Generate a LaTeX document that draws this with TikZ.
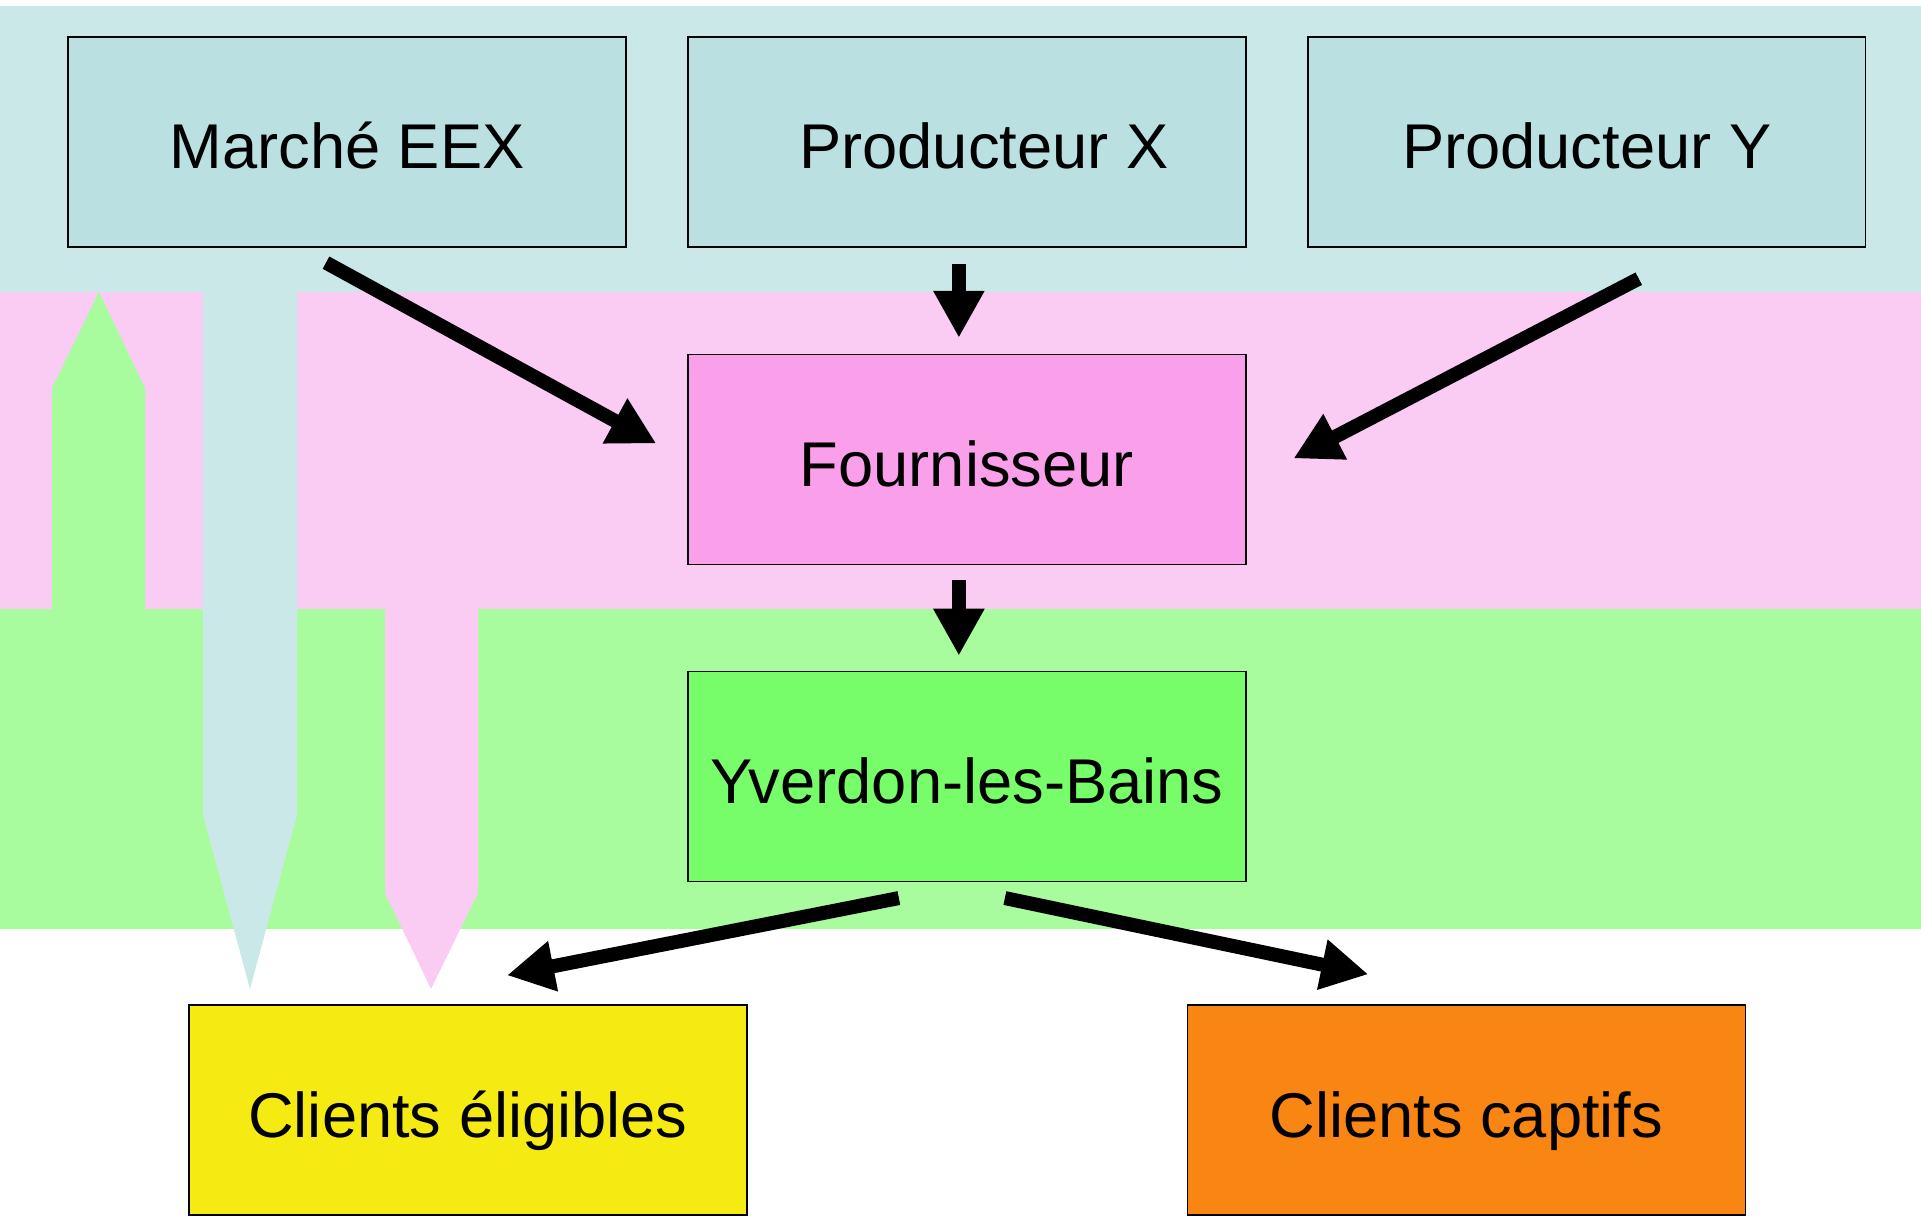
\documentclass[tikz,border=0pt]{standalone}
\usepackage{fontspec}
\setmainfont{Liberation Sans}
\usepackage{tikz}
\usetikzlibrary{arrows.meta}

\definecolor{bandcyan}{RGB}{203,232,232}
\definecolor{boxcyan}{RGB}{186,224,226}
\definecolor{bandpink}{RGB}{251,204,243}
\definecolor{boxpink}{RGB}{250,160,234}
\definecolor{bandgreen}{RGB}{168,252,158}
\definecolor{boxgreen}{RGB}{120,253,106}
\definecolor{boxyellow}{RGB}{245,235,18}
\definecolor{boxorange}{RGB}{249,134,18}

\begin{document}
\begin{tikzpicture}[
            x = 0.02cm, y = -0.02cm, % one unit per pixel, y going down
            > = {Triangle[length=0.94cm, width=0.96cm]}, % arrow head style
            node distance = 12.4cm, % distance between nodes
            flow/.style = {->, line width=0.28cm}
        ]

        \tikzstyle{box}=[
            draw = black,
            line width = 0.8pt,
            minimum width = 11.16cm,
            minimum height = 4.2cm,
            inner sep = 0pt,
            text height = 1.08cm, % same baseline in every box
            text depth = 0cm,
            font = \fontsize{36}{40}\selectfont
        ]

    \useasboundingbox (0,0) rectangle (1921,1216);

    % bands
    \fill[bandcyan] (0,6) rectangle (1921,292);
    \fill[bandpink] (0,292) rectangle (1921,609);
    \fill[bandgreen] (0,609) rectangle (1921,929);

    % wide arrows
    \fill[bandgreen] (52,609) -- (52,388) -- (99,292) -- (145,388) -- (145,609) -- cycle;
    \fill[bandcyan] (203,292) -- (203,815) -- (250,989) -- (297,815) -- (297,292) -- cycle;
    \fill[bandpink] (385,609) -- (385,893) -- (431,989) -- (478,893) -- (478,609) -- cycle;

	\node[box, fill=boxcyan] (eex) at (347,142) {Marché EEX};
	\node[box, fill=boxcyan] (px) [right of=eex] {\hspace*{0.68cm}Producteur X};
	\node[box, fill=boxcyan] (py) [right of=px] {Producteur Y};
	\node[box, fill=boxpink] (four) [below of=px, node distance=6.35cm] {Fournisseur};
	\node[box, fill=boxgreen] (yv) [below of=four, node distance=6.34cm] {Yverdon-les-Bains};
	\node[box, fill=boxyellow] (elig) at (468,1110) {Clients éligibles};
	\node[box, fill=boxorange] (capt) [right of=elig, node distance=19.97cm] {Clients captifs};

	\draw[flow] ([shift={(-21,15)}]eex.south) -- ([shift={(-31,-16)}]four.west);
	\draw[flow] ([shift={(-8,16)}]px.south) -- ([shift={(-8,-16)}]four.north);
	\draw[flow] ([shift={(52,31)}]py.south) -- ([shift={(47,-1)}]four.east);
	\draw[flow] ([shift={(-8,15)}]four.south) -- ([shift={(-8,-15)}]yv.north);
	\draw[flow] ([shift={(-68,16)}]yv.south) -- ([shift={(39,-29)}]elig.north);
	\draw[flow] ([shift={(38,16)}]yv.south) -- ([shift={(-98,-30)}]capt.north);

    \end{tikzpicture}
\end{document}
